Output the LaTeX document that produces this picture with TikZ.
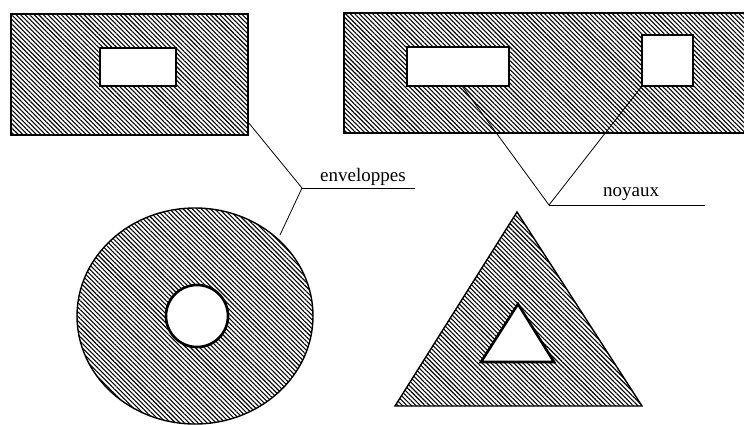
\documentclass[tikz,border=0pt]{standalone}
\usepackage{fontspec}
\setmainfont{Liberation Serif}
\usetikzlibrary{patterns.meta}
\tikzset{
  hatched/.style={draw=black,line width=1.4pt,pattern={Lines[angle=-45,distance=3.2pt,line width=1.1pt]}},
  hole/.style={draw=black,line width=2.6pt,fill=white},
  leader/.style={draw=black,line width=0.8pt},
  tag/.style={font=\fontsize{19}{22}\selectfont,inner sep=0pt,anchor=base west},
}
\begin{document}
\begin{tikzpicture}[x=1pt,y=-1pt]
    \clip (0,0) rectangle (744,424);
    \fill[white] (0,0) rectangle (744,424);
    % shapes
    \draw[hatched] (11,14) rectangle (248,135);
    \draw[hole] (100,48) rectangle (176,86);
    \draw[hatched] (344,13) rectangle (760,133);
    \draw[hole] (407,47) rectangle (509,86);
    \draw[hole] (642,35) rectangle (693,86);
    \draw[hatched] (195,316) ellipse [x radius=118,y radius=108];
    \draw[hole] (197,316) circle [radius=31];
    \draw[hatched] (517,212) -- (642,406) -- (395,406) -- cycle;
    \draw[hole] (518,304) -- (554,362) -- (481,362) -- cycle;
    % labels
    \node[tag] (envtxt) at (320,181) {enveloppes};
    \node[tag] (noytxt) at (603,196) {noyaux};
    \coordinate (envknee) at (302,188);
    \coordinate (envend) at (415,188);
    \coordinate (rectpt) at (248,122);
    \coordinate (ringpt) at (280,235);
    \coordinate (noyknee) at (549,205);
    \coordinate (noyend) at (705,205);
    \coordinate (holeA) at (462,86);
    \coordinate (holeB) at (642,86);
    \draw[leader] (rectpt) -- (envknee) -- (ringpt);
    \draw[leader] (envknee) -- (envend);
    \draw[leader] (holeA) -- (noyknee) -- (holeB);
    \draw[leader] (noyknee) -- (noyend);
\end{tikzpicture}
\end{document}
